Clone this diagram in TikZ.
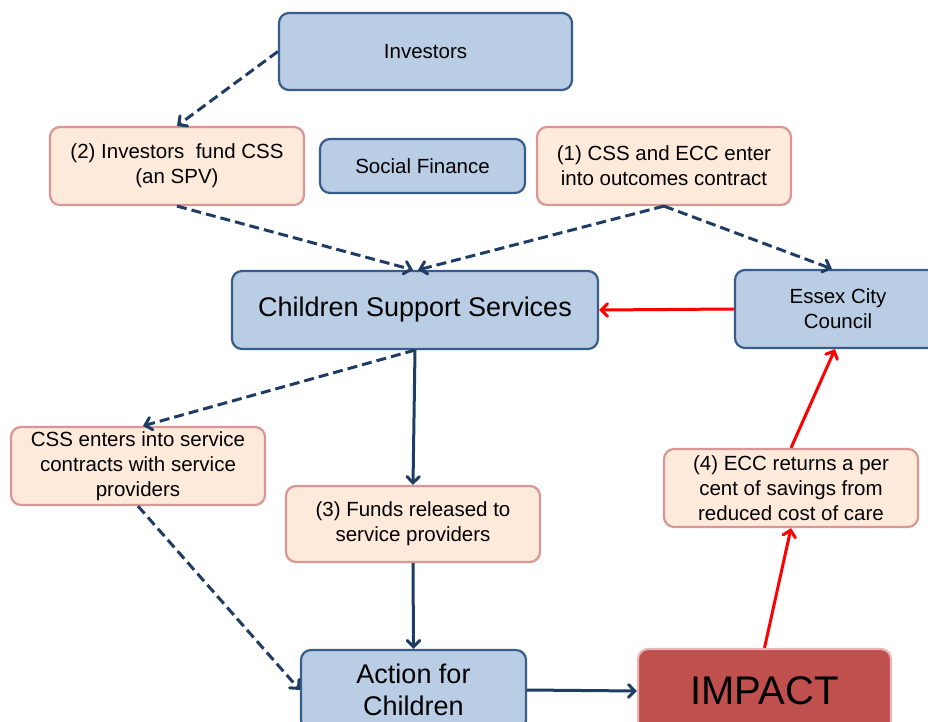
\documentclass[tikz,border=0pt]{standalone}
\usepackage{fontspec}
\setmainfont{Liberation Sans}
\usetikzlibrary{shapes.geometric, arrows}
\definecolor{fillblue}{HTML}{B9CDE5}
\definecolor{lineblue}{HTML}{385D8A}
\definecolor{fillpink}{HTML}{FDEADA}
\definecolor{linepink}{HTML}{D99694}
\definecolor{darkarrow}{HTML}{1F3D64}
\definecolor{impactred}{HTML}{C0504D}
\definecolor{impactline}{HTML}{E6B9B8}
\tikzstyle{bluebox} = [rectangle, rounded corners=10pt, draw=lineblue, line width=2.2pt, fill=fillblue, align=center, text centered, font=\fontsize{20.5}{25}\selectfont]
\tikzstyle{pinkbox} = [rectangle, rounded corners=10pt, draw=linepink, line width=2.2pt, fill=fillpink, align=center, text centered, minimum width=254pt, minimum height=78pt, font=\fontsize{20.5}{25}\selectfont]
\tikzstyle{bigtext} = [font=\fontsize{27}{32}\selectfont]
\tikzstyle{impactbox} = [rectangle, rounded corners=10pt, draw=impactline, line width=2.2pt, fill=impactred, text centered, font=\fontsize{40}{48}\selectfont]
\tikzstyle{dasharrow} = [darkarrow, line width=3pt, dash pattern=on 10pt off 5pt, ->, >=angle 90]
\tikzstyle{arrow} = [darkarrow, line width=3pt, ->, >=angle 90]
\tikzstyle{redarrow} = [red, line width=3pt, ->, >=angle 90]

\begin{document}
\begin{tikzpicture}[x=1pt, y=-1pt]
            \useasboundingbox (0,0) rectangle (928,722);
            \clip (0,0) rectangle (928,722);
            \node [bluebox, minimum width=293pt, minimum height=77pt] at (425.5,51.5) (inv) {Investors};
            \node [pinkbox] at (177,166) (fund) {(2) Investors\ \ fund CSS\\(an SPV)};
            \node [bluebox, minimum width=205pt, minimum height=54pt] at (422.5,166) (sf) {Social Finance};
            \node [pinkbox] at (664,166) (contract) {(1) CSS and ECC enter\\into outcomes contract};
            \node [bluebox, bigtext, minimum width=366pt, minimum height=78pt] at (415,310) (css) {Children Support Services};
            \node [bluebox, minimum width=206pt, minimum height=78pt] at (838,309) (ecc) {Essex City\\Council};
            \node [pinkbox] at (138,466) (svc) {CSS enters into service\\contracts with service\\providers};
            \node [pinkbox, minimum height=76pt] at (413,524) (funds) {(3) Funds released to\\service providers};
            \node [pinkbox] at (791,488) (returns) {(4) ECC returns a per\\cent of savings from\\reduced cost of care};
            \node [bluebox, bigtext, minimum width=225pt, minimum height=80pt] at (413.5,690) (afc) {Action for\\Children};
            \node [impactbox, minimum width=253pt, minimum height=84pt] at (764.5,691) (impact) {IMPACT};
            \draw [dasharrow] (inv.west) -- (fund.north);
            \draw [dasharrow] (fund.south) -- ([xshift=-2pt]css.north);
            \draw [dasharrow] (contract.south) -- ([xshift=3pt]css.north);
            \draw [dasharrow] (contract.south) -- ([xshift=-6pt]ecc.north);
            \draw [redarrow] (ecc.west) -- (css.east);
            \draw [arrow] (css.south) -- (funds.north);
            \draw [dasharrow] (css.south) -- ([xshift=5pt]svc.north);
            \draw [dasharrow] (svc.south) -- (afc.west);
            \draw [arrow] (funds.south) -- (afc.north);
            \draw [arrow] (afc.east) -- (impact.west);
            \draw [redarrow] (impact.north) -- (returns.south);
            \draw [redarrow] (returns.north) -- ([xshift=-3pt]ecc.south);
            \end{tikzpicture}
\end{document}
